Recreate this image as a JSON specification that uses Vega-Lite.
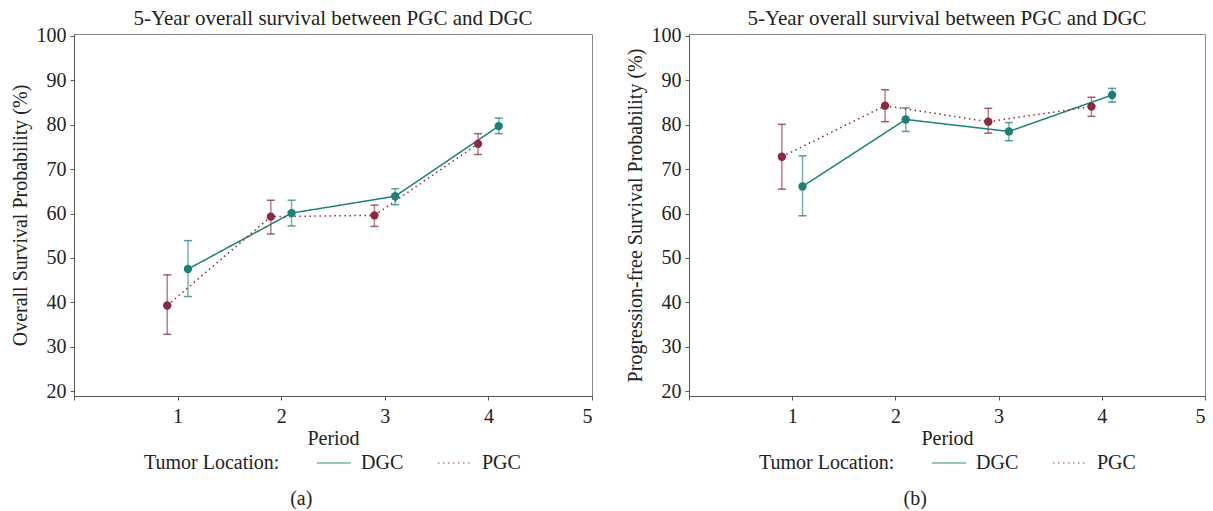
{
  "$schema": "https://vega.github.io/schema/vega-lite/v6.json",
  "padding": {"left": 9, "top": 7, "right": 0, "bottom": 0},
  "background": "white",
  "config": {
    "font": "Liberation Serif",
    "view": {"stroke": "#8a8a8a", "strokeWidth": 1},
    "axis": {
      "labelFont": "Liberation Serif", "labelFontSize": 20, "labelColor": "#222222",
      "titleFont": "Liberation Serif", "titleFontSize": 20, "titleFontWeight": "normal", "titleColor": "#222222",
      "domainColor": "#555555", "tickColor": "#555555", "tickSize": 4, "grid": false
    },
    "title": {"font": "Liberation Serif", "fontSize": 21, "fontWeight": "normal", "color": "#222222"},
    "legend": {
      "titleFont": "Liberation Serif", "titleFontSize": 20, "titleFontWeight": "normal", "titleColor": "#222222",
      "labelFont": "Liberation Serif", "labelFontSize": 20, "labelColor": "#222222"
    }
  },
  "datasets": {
    "a": [
      {"loc": "DGC", "x": 1.1, "v": 47.5, "lo": 41.3, "hi": 53.9},
      {"loc": "DGC", "x": 2.1, "v": 60.1, "lo": 57.2, "hi": 63.0},
      {"loc": "DGC", "x": 3.1, "v": 63.9, "lo": 62.0, "hi": 65.6},
      {"loc": "DGC", "x": 4.1, "v": 79.7, "lo": 78.0, "hi": 81.5},
      {"loc": "PGC", "x": 0.9, "v": 39.3, "lo": 32.8, "hi": 46.2},
      {"loc": "PGC", "x": 1.9, "v": 59.3, "lo": 55.4, "hi": 63.0},
      {"loc": "PGC", "x": 2.9, "v": 59.6, "lo": 57.1, "hi": 61.9},
      {"loc": "PGC", "x": 3.9, "v": 75.7, "lo": 73.3, "hi": 78.0}
    ],
    "b": [
      {"loc": "DGC", "x": 1.1, "v": 66.1, "lo": 59.5, "hi": 73.0},
      {"loc": "DGC", "x": 2.1, "v": 81.2, "lo": 78.5, "hi": 83.8},
      {"loc": "DGC", "x": 3.1, "v": 78.5, "lo": 76.4, "hi": 80.5},
      {"loc": "DGC", "x": 4.1, "v": 86.7, "lo": 85.1, "hi": 88.2},
      {"loc": "PGC", "x": 0.9, "v": 72.8, "lo": 65.5, "hi": 80.1},
      {"loc": "PGC", "x": 1.9, "v": 84.3, "lo": 80.7, "hi": 87.9},
      {"loc": "PGC", "x": 2.9, "v": 80.7, "lo": 78.1, "hi": 83.7},
      {"loc": "PGC", "x": 3.9, "v": 84.1, "lo": 81.9, "hi": 86.2}
    ]
  },
  "spacing": 31,
  "resolve": {"scale": {"color": "independent", "strokeDash": "independent", "x": "independent", "y": "independent"}},
  "hconcat": [
    {
      "title": {"text": "(a)", "orient": "bottom", "anchor": "middle", "frame": "bounds", "offset": 15, "fontSize": 20},
      "resolve": {"scale": {"color": "independent", "strokeDash": "independent"}},
      "vconcat": [
        {
          "title": {"text": "5-Year overall survival between PGC and DGC", "anchor": "middle", "offset": -3},
          "width": 518, "height": 362,
          "data": {"name": "a"},
          "layer": [
            {
              "mark": {"type": "rule", "strokeWidth": 1.5, "opacity": 0.6},
              "encoding": {
                "x": {"field": "x", "type": "quantitative", "scale": {"domain": [0, 5], "nice": false},
                  "axis": {"values": [0, 1, 2, 3, 4, 5], "format": "d", "labelExpr": "datum.value === 0 ? '' : datum.label", "labelPadding": 6, "titlePadding": 2}, "title": "Period"},
                "y": {"field": "lo", "type": "quantitative", "scale": {"domain": [18.9, 100.45], "nice": false, "zero": false},
                  "axis": {"values": [20, 25, 30, 35, 40, 45, 50, 55, 60, 65, 70, 75, 80, 85, 90, 95, 100], "labelExpr": "datum.value % 10 === 0 ? datum.label : ''", "labelPadding": 4, "titlePadding": 6},
                  "title": "Overall Survival Probability (%)"},
                "y2": {"field": "hi"},
                "color": {"field": "loc", "type": "nominal", "scale": {"domain": ["DGC", "PGC"], "range": ["#1b8078", "#8a2a40"]}}
              }
            },
            {
              "mark": {"type": "tick", "orient": "horizontal", "size": 8, "thickness": 1.5, "opacity": 0.75},
              "encoding": {
                "x": {"field": "x", "type": "quantitative", "title": "Period"},
                "y": {"field": "lo", "type": "quantitative", "title": "Overall Survival Probability (%)"},
                "color": {"field": "loc", "type": "nominal"}
              }
            },
            {
              "mark": {"type": "tick", "orient": "horizontal", "size": 8, "thickness": 1.5, "opacity": 0.75},
              "encoding": {
                "x": {"field": "x", "type": "quantitative", "title": "Period"},
                "y": {"field": "hi", "type": "quantitative", "title": "Overall Survival Probability (%)"},
                "color": {"field": "loc", "type": "nominal"}
              }
            },
            {
              "mark": {"type": "line", "strokeWidth": 1.5},
              "encoding": {
                "x": {"field": "x", "type": "quantitative", "title": "Period"},
                "y": {"field": "v", "type": "quantitative", "title": "Overall Survival Probability (%)"},
                "color": {"field": "loc", "type": "nominal",
                  "legend": {"title": "Tumor Location:", "orient": "none", "legendX": 70, "legendY": 419, "direction": "horizontal", "titleOrient": "left", "titlePadding": 44, "symbolType": "M-2,0L2,0", "symbolSize": 289, "symbolStrokeWidth": 1.5, "labelOffset": 17, "columnPadding": 31}},
                "strokeDash": {"field": "loc", "type": "nominal", "scale": {"domain": ["DGC", "PGC"], "range": [[1, 0], [1.5, 3.5]]},
                  "legend": {"title": "Tumor Location:", "orient": "none", "legendX": 70, "legendY": 419, "direction": "horizontal", "titleOrient": "left", "titlePadding": 44, "symbolType": "M-2,0L2,0", "symbolSize": 289, "symbolStrokeWidth": 1.5, "labelOffset": 17, "columnPadding": 31}}
              }
            },
            {
              "mark": {"type": "point", "filled": true, "size": 70, "opacity": 1},
              "encoding": {
                "x": {"field": "x", "type": "quantitative", "title": "Period"},
                "y": {"field": "v", "type": "quantitative", "title": "Overall Survival Probability (%)"},
                "color": {"field": "loc", "type": "nominal"}
              }
            }
          ]
        }
      ]
    },
    {
      "title": {"text": "(b)", "orient": "bottom", "anchor": "middle", "frame": "bounds", "offset": 15, "fontSize": 20},
      "resolve": {"scale": {"color": "independent", "strokeDash": "independent"}},
      "vconcat": [
        {
          "title": {"text": "5-Year overall survival between PGC and DGC", "anchor": "middle", "offset": -3},
          "width": 516, "height": 362,
          "data": {"name": "b"},
          "layer": [
            {
              "mark": {"type": "rule", "strokeWidth": 1.5, "opacity": 0.6},
              "encoding": {
                "x": {"field": "x", "type": "quantitative", "scale": {"domain": [0, 5], "nice": false},
                  "axis": {"values": [0, 1, 2, 3, 4, 5], "format": "d", "labelExpr": "datum.value === 0 ? '' : datum.label", "labelPadding": 6, "titlePadding": 2}, "title": "Period"},
                "y": {"field": "lo", "type": "quantitative", "scale": {"domain": [18.9, 100.45], "nice": false, "zero": false},
                  "axis": {"values": [20, 25, 30, 35, 40, 45, 50, 55, 60, 65, 70, 75, 80, 85, 90, 95, 100], "labelExpr": "datum.value % 10 === 0 ? datum.label : ''", "labelPadding": 4, "titlePadding": 6},
                  "title": "Progression-free Survival Probability (%)"},
                "y2": {"field": "hi"},
                "color": {"field": "loc", "type": "nominal", "scale": {"domain": ["DGC", "PGC"], "range": ["#1b8078", "#8a2a40"]}}
              }
            },
            {
              "mark": {"type": "tick", "orient": "horizontal", "size": 8, "thickness": 1.5, "opacity": 0.75},
              "encoding": {
                "x": {"field": "x", "type": "quantitative", "title": "Period"},
                "y": {"field": "lo", "type": "quantitative", "title": "Progression-free Survival Probability (%)"},
                "color": {"field": "loc", "type": "nominal"}
              }
            },
            {
              "mark": {"type": "tick", "orient": "horizontal", "size": 8, "thickness": 1.5, "opacity": 0.75},
              "encoding": {
                "x": {"field": "x", "type": "quantitative", "title": "Period"},
                "y": {"field": "hi", "type": "quantitative", "title": "Progression-free Survival Probability (%)"},
                "color": {"field": "loc", "type": "nominal"}
              }
            },
            {
              "mark": {"type": "line", "strokeWidth": 1.5},
              "encoding": {
                "x": {"field": "x", "type": "quantitative", "title": "Period"},
                "y": {"field": "v", "type": "quantitative", "title": "Progression-free Survival Probability (%)"},
                "color": {"field": "loc", "type": "nominal",
                  "legend": {"title": "Tumor Location:", "orient": "none", "legendX": 70, "legendY": 419, "direction": "horizontal", "titleOrient": "left", "titlePadding": 44, "symbolType": "M-2,0L2,0", "symbolSize": 289, "symbolStrokeWidth": 1.5, "labelOffset": 17, "columnPadding": 31}},
                "strokeDash": {"field": "loc", "type": "nominal", "scale": {"domain": ["DGC", "PGC"], "range": [[1, 0], [1.5, 3.5]]},
                  "legend": {"title": "Tumor Location:", "orient": "none", "legendX": 70, "legendY": 419, "direction": "horizontal", "titleOrient": "left", "titlePadding": 44, "symbolType": "M-2,0L2,0", "symbolSize": 289, "symbolStrokeWidth": 1.5, "labelOffset": 17, "columnPadding": 31}}
              }
            },
            {
              "mark": {"type": "point", "filled": true, "size": 70, "opacity": 1},
              "encoding": {
                "x": {"field": "x", "type": "quantitative", "title": "Period"},
                "y": {"field": "v", "type": "quantitative", "title": "Progression-free Survival Probability (%)"},
                "color": {"field": "loc", "type": "nominal"}
              }
            }
          ]
        }
      ]
    }
  ]
}
